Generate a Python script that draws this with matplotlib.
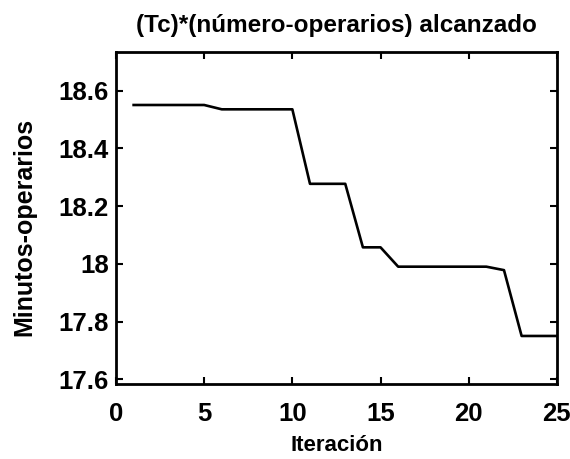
import matplotlib
matplotlib.use('Agg')
import matplotlib.pyplot as plt

iteracion = list(range(1, 26))
minutos_operarios = [18.55, 18.55, 18.55, 18.55, 18.55,
                     18.535, 18.535, 18.535, 18.535, 18.535,
                     18.277, 18.277, 18.277,
                     18.057, 18.057,
                     17.99, 17.99, 17.99, 17.99, 17.99, 17.99,
                     17.978,
                     17.75, 17.75, 17.75]

plt.rcParams['font.family'] = ['Liberation Sans', 'DejaVu Sans']
plt.rcParams['font.weight'] = 'bold'

fig = plt.figure(figsize=(5.7, 4.59), dpi=100)
ax = fig.add_axes([0.2035, 0.163, 0.7735, 0.724])
ax.plot(iteracion, minutos_operarios, color='black', linewidth=1.9)

ax.set_xlim(0, 25)
ax.set_ylim(17.583, 18.734)
ax.set_xticks([0, 5, 10, 15, 20, 25])
ax.set_yticks([17.6, 17.8, 18.0, 18.2, 18.4, 18.6])
ax.set_yticklabels(['17.6', '17.8', '18', '18.2', '18.4', '18.6'])
ax.tick_params(direction='in', length=5, width=1.5, top=True, right=True,
               labelsize=18.5)
ax.tick_params(axis='x', pad=13)
ax.tick_params(axis='y', pad=5)
for lbl in ax.get_xticklabels() + ax.get_yticklabels():
    lbl.set_fontweight('bold')
for s in ax.spines.values():
    s.set_linewidth(2)

ax.set_title('(Tc)*(número-operarios) alcanzado', fontsize=17.5,
             fontweight='bold', pad=14)
ax.set_xlabel('Iteración', fontsize=16, fontweight='bold', labelpad=6)
ax.set_ylabel('Minutos-operarios', fontsize=18, fontweight='bold')
ax.yaxis.set_label_coords(-0.181, 0.473)

fig.savefig('out.png', dpi=100)
